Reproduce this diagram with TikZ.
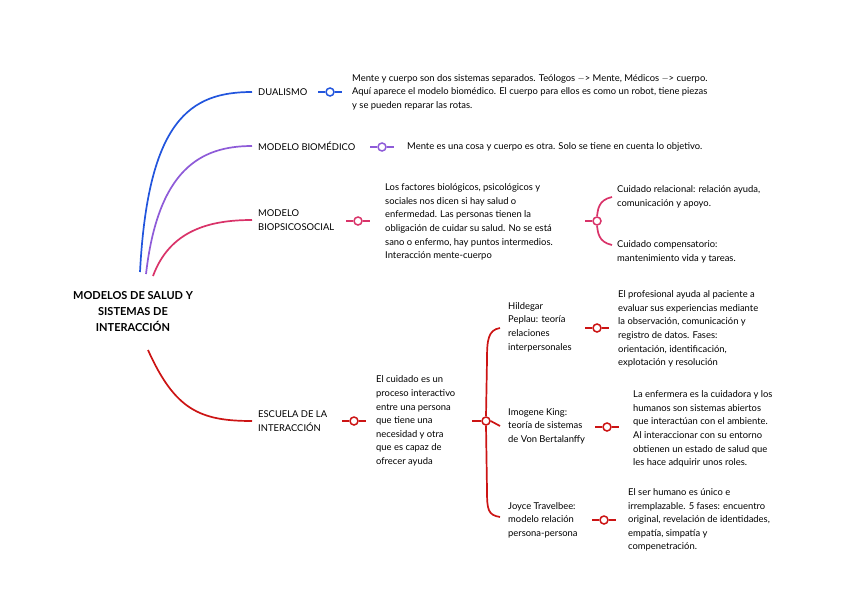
\documentclass[tikz,border=0pt]{standalone}
\usepackage{fontspec}
\setmainfont{Lato}
\begin{document}
\begin{tikzpicture}[x=1pt,y=-1pt,
  lbl/.style={anchor=west,align=left,inner sep=0,font=\fontsize{9.4}{13.6}\selectfont},
  dot/.style={circle,draw=#1,fill=white,line width=1.5pt,minimum size=8pt,inner sep=0},
  br/.style={draw=#1,line width=1.7pt}]
\useasboundingbox (0,0) rectangle (848,599);
\definecolor{cb}{HTML}{2255DD}\definecolor{cp}{HTML}{8E5BD8}
\definecolor{ck}{HTML}{D93369}\definecolor{cr}{HTML}{CC1414}
\node[font=\bfseries\fontsize{11}{16}\selectfont,align=center] (root) at (133,312) {MODELOS DE SALUD Y\\SISTEMAS DE\\INTERACCIÓN};
\coordinate (r1) at (140,272);\coordinate (r2) at (146,274);\coordinate (r3) at (153,276);\coordinate (r4) at (148,350);
% level 1
\node[lbl] (dual) at (258,92) {DUALISMO};
\node[lbl] (bio) at (258,146) {MODELO BIOMÉDICO};
\node[lbl] (bps) at (258,220) {MODELO\\BIOPSICOSOCIAL};
\node[lbl] (esc) at (258,421) {ESCUELA DE LA\\INTERACCIÓN};
\draw[br=cb] (r1) .. controls (148,120) and (190,92) .. ([xshift=-6]dual.west);
\draw[br=cp] (r2) .. controls (158,170) and (200,146) .. ([xshift=-6]bio.west);
\draw[br=ck] (r3) .. controls (170,230) and (210,220) .. ([xshift=-6]bps.west);
\draw[br=cr] (r4) .. controls (175,410) and (200,421) .. ([xshift=-6]esc.west);
% dualismo
\node[dot=cb] (d1) at (330,92) {};
\draw[br=cb] (318,92) -- (d1) -- (342,92);
\node[lbl] (dt) at (352,92) {Mente y cuerpo son dos sistemas separados. Teólogos $-$> Mente, Médicos $-$> cuerpo.\\Aquí aparece el modelo biomédico. El cuerpo para ellos es como un robot, tiene piezas\\y se pueden reparar las rotas.};
% biomedico
\node[dot=cp] (b1) at (382,147) {};
\draw[br=cp] (370,147) -- (b1) -- (394,147);
\node[lbl] (bt) at (407,147) {Mente es una cosa y cuerpo es otra. Solo se tiene en cuenta lo objetivo.};
% biopsicosocial
\node[dot=ck] (p1) at (358,221) {};
\draw[br=ck] (346,221) -- (p1) -- (370,221);
\node[lbl] (pt) at (385,222) {Los factores biológicos, psicológicos y\\sociales nos dicen si hay salud o\\enfermedad. Las personas tienen la\\obligación de cuidar su salud. No se está\\sano o enfermo, hay puntos intermedios.\\Interacción mente-cuerpo};
\node[dot=ck] (p2) at (597,221) {};
\draw[br=ck] (585,221) -- (p2);
\draw[br=ck] (612,197) .. controls (598,200) and (598,210) .. (p2.north);
\draw[br=ck] (612,245) .. controls (598,242) and (598,232) .. (p2.south);
\node[lbl] (pc1) at (617,197) {Cuidado relacional: relación ayuda,\\comunicación y apoyo.};
\node[lbl] (pc2) at (617,252) {Cuidado compensatorio:\\mantenimiento vida y tareas.};
% escuela
\node[dot=cr] (e1) at (354,421) {};
\draw[br=cr] (342,421) -- (e1) -- (366,421);
\node[lbl] (et) at (376,421) {El cuidado es un\\proceso interactivo\\entre una persona\\que tiene una\\necesidad y otra\\que es capaz de\\ofrecer ayuda};
\node[dot=cr] (e2) at (486,421) {};
\draw[br=cr] (472,421) -- (e2);
\draw[br=cr] (500,328) .. controls (488,330) and (487,340) .. (487,360) -- (e2.north);
\draw[br=cr] (e2.south) -- (487,490) .. controls (487,510) and (488,515) .. (500,517);
\draw[br=cr] (e2.east) -- (500,426);
\node[lbl] (h) at (508,327) {Hildegar\\Peplau: teoría\\relaciones\\interpersonales};
\node[lbl] (k) at (508,426) {Imogene King:\\teoría de sistemas\\de Von Bertalanffy};
\node[lbl] (j) at (508,520) {Joyce Travelbee:\\modelo relación\\persona-persona};
\node[dot=cr] (h1) at (597,328) {};
\draw[br=cr] (585,328) -- (h1) -- (609,328);
\node[lbl] (ht) at (618,329) {El profesional ayuda al paciente a\\evaluar sus experiencias mediante\\la observación, comunicación y\\registro de datos. Fases:\\orientación, identificación,\\explotación y resolución};
\node[dot=cr] (k1) at (607,427) {};
\draw[br=cr] (595,427) -- (k1) -- (619,427);
\node[lbl] (kt) at (633,429) {La enfermera es la cuidadora y los\\humanos son sistemas abiertos\\que interactúan con el ambiente.\\Al interaccionar con su entorno\\obtienen un estado de salud que\\les hace adquirir unos roles.};
\node[dot=cr] (j1) at (604,520) {};
\draw[br=cr] (592,520) -- (j1) -- (616,520);
\node[lbl] (jt) at (628,520) {El ser humano es único e\\irremplazable. 5 fases: encuentro\\original, revelación de identidades,\\empatía, simpatía y\\compenetración.};
\end{tikzpicture}
\end{document}
